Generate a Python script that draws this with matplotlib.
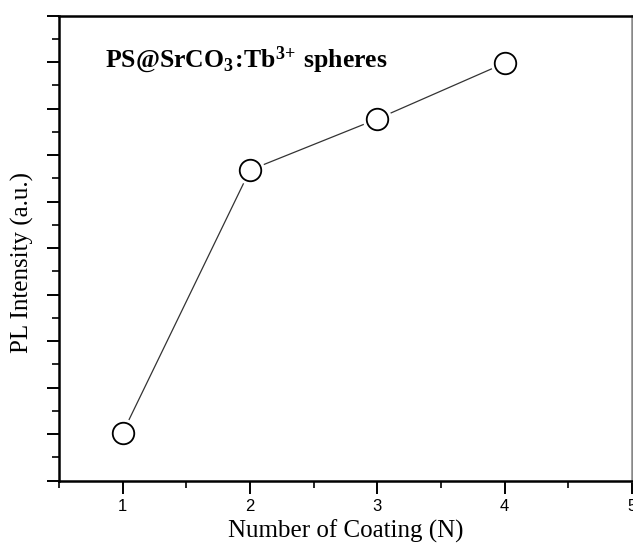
import numpy as np
import matplotlib
matplotlib.use("Agg")
import matplotlib.pyplot as plt
from matplotlib.ticker import MultipleLocator, NullFormatter

plt.rcParams['mathtext.fontset'] = 'custom'
plt.rcParams['mathtext.rm'] = 'Liberation Serif'
plt.rcParams['mathtext.bf'] = 'Liberation Serif:bold'

# data
coatings = [1, 2, 3, 4]
intensity = [1.03, 6.68, 7.78, 8.98]
x_ticks = [1, 2, 3, 4, 5]
x_tick_labels = ["1", "2", "3", "4", "5"]

fig = plt.figure(figsize=(6.33, 5.45), dpi=100)
ax = fig.add_axes([59 / 633, 1 - 480.7 / 545, (632 - 59) / 633, (480.7 - 15.7) / 545])

# line first, then white halo so the line stops short of the circles
ax.plot(coatings, intensity, color="#333333", lw=0.9, zorder=2)
ax.plot(coatings, intensity, ls="none", marker="o", ms=21, mfc="white", mec="none", zorder=3)
ax.plot(coatings, intensity, ls="none", marker="o", ms=15.5, mfc="white", mec="black", mew=1.3, zorder=4)

ax.set_xlim(0.5, 5)
ax.set_ylim(0, 10)

ax.set_xticks(x_ticks)
ax.set_xticklabels(x_tick_labels, fontfamily="Liberation Sans", fontsize=12)
ax.xaxis.set_minor_locator(MultipleLocator(0.5))
ax.yaxis.set_major_locator(MultipleLocator(1))
ax.yaxis.set_minor_locator(MultipleLocator(0.5))
ax.yaxis.set_major_formatter(NullFormatter())

ax.tick_params(which="major", direction="out", length=9, width=1.4, pad=4)
ax.tick_params(which="minor", direction="out", length=5, width=1.2)
ax.tick_params(axis="x", which="both", top=False)
ax.tick_params(axis="y", which="both", right=False)

for side in ["left", "bottom", "top"]:
    ax.spines[side].set_linewidth(1.8)
ax.spines["right"].set_linewidth(1.8)
ax.spines["right"].set_color("#888888")

ax.set_xlabel("Number of Coating (N)", fontfamily="Liberation Serif", fontsize=18, labelpad=4)
ax.set_ylabel("PL Intensity (a.u.)", fontfamily="Liberation Serif", fontsize=18)
ax.yaxis.set_label_coords(-0.044, 0.47)

ax.text(0.08, 0.89, r"$\mathbf{PS@SrCO_3\!{:}\!Tb^{3{+}}\ spheres}$", transform=ax.transAxes,
        fontsize=18.5, va="baseline", ha="left")

fig.savefig("out.png", dpi=100)
